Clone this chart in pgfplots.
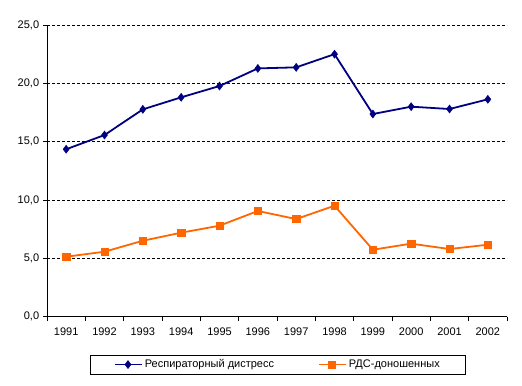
\documentclass[border=0pt]{standalone}
\usepackage{fontspec}
\setmainfont{Liberation Sans}
\usepackage{pgfplots}
\pgfplotsset{compat=1.18}
\definecolor{navyline}{RGB}{0,0,128}
\definecolor{orangeline}{RGB}{255,102,0}
\begin{document}
\fontsize{11bp}{13bp}\selectfont
\begin{tikzpicture}[x=1bp,y=1bp]
\useasboundingbox (0,0) rectangle (522,385);
\begin{axis}[
  at={(47bp,68.3bp)}, anchor=south west,
  scale only axis, width=460bp, height=291.7bp,
  xmin=0.5, xmax=12.5, ymin=0, ymax=25,
  axis x line=bottom, axis y line=left,
  axis line style={-, line width=0.8pt, black},
  xtick={1,...,12},
  xticklabels={1991,1992,1993,1994,1995,1996,1997,1998,1999,2000,2001,2002},
  major x tick style={draw=none},
  minor xtick={0.5,1.5,...,12.5},
  minor tick length=4bp,
  minor x tick style={black, line width=0.6pt},
  x tick label style={yshift=-3bp},
  ytick={0,5,...,25},
  y tick style={black, line width=0.6pt},
  major tick length=4bp,
  tick align=outside,
  ymajorgrids,
  grid style={dashed, black, line width=0.6pt, dash pattern=on 2.5bp off 2.5bp},
  y tick label style={/pgf/number format/.cd, use comma, fixed, fixed zerofill, precision=1},
  /pgf/number format/assume math mode=true,
  tick label style={font=\fontsize{11bp}{13bp}\selectfont},
  legend columns=2,
  legend style={at={(0.502,-0.164)}, anchor=center, draw=black, line width=0.6pt,
    font=\fontsize{11bp}{13bp}\selectfont, inner xsep=24bp, inner ysep=2.5bp,
    /tikz/every even column/.append style={column sep=42bp}},
  legend image code/.code={\draw[#1] (0bp,0bp) -- (13bp,0bp) -- (27bp,0bp); \draw[#1, mark repeat=2, mark phase=2] plot coordinates {(0bp,0bp) (13bp,0bp) (27bp,0bp)};},
]
\addplot[navyline, line width=1.8pt, mark=diamond*, mark size=4bp, mark options={solid, line width=0.5pt}]
  coordinates {(1,14.35) (2,15.57) (3,17.77) (4,18.8) (5,19.77) (6,21.28) (7,21.37) (8,22.5) (9,17.37) (10,18.0) (11,17.8) (12,18.63)};
\addlegendentry{Респираторный дистресс}
\addplot[orangeline, line width=1.8pt, mark=square*, mark size=3.7bp, mark options={solid, line width=0.5pt}]
  coordinates {(1,5.14) (2,5.57) (3,6.51) (4,7.2) (5,7.8) (6,9.06) (7,8.37) (8,9.51) (9,5.74) (10,6.26) (11,5.8) (12,6.17)};
\addlegendentry{РДС-доношенных}
\end{axis}
\end{tikzpicture}
\end{document}
